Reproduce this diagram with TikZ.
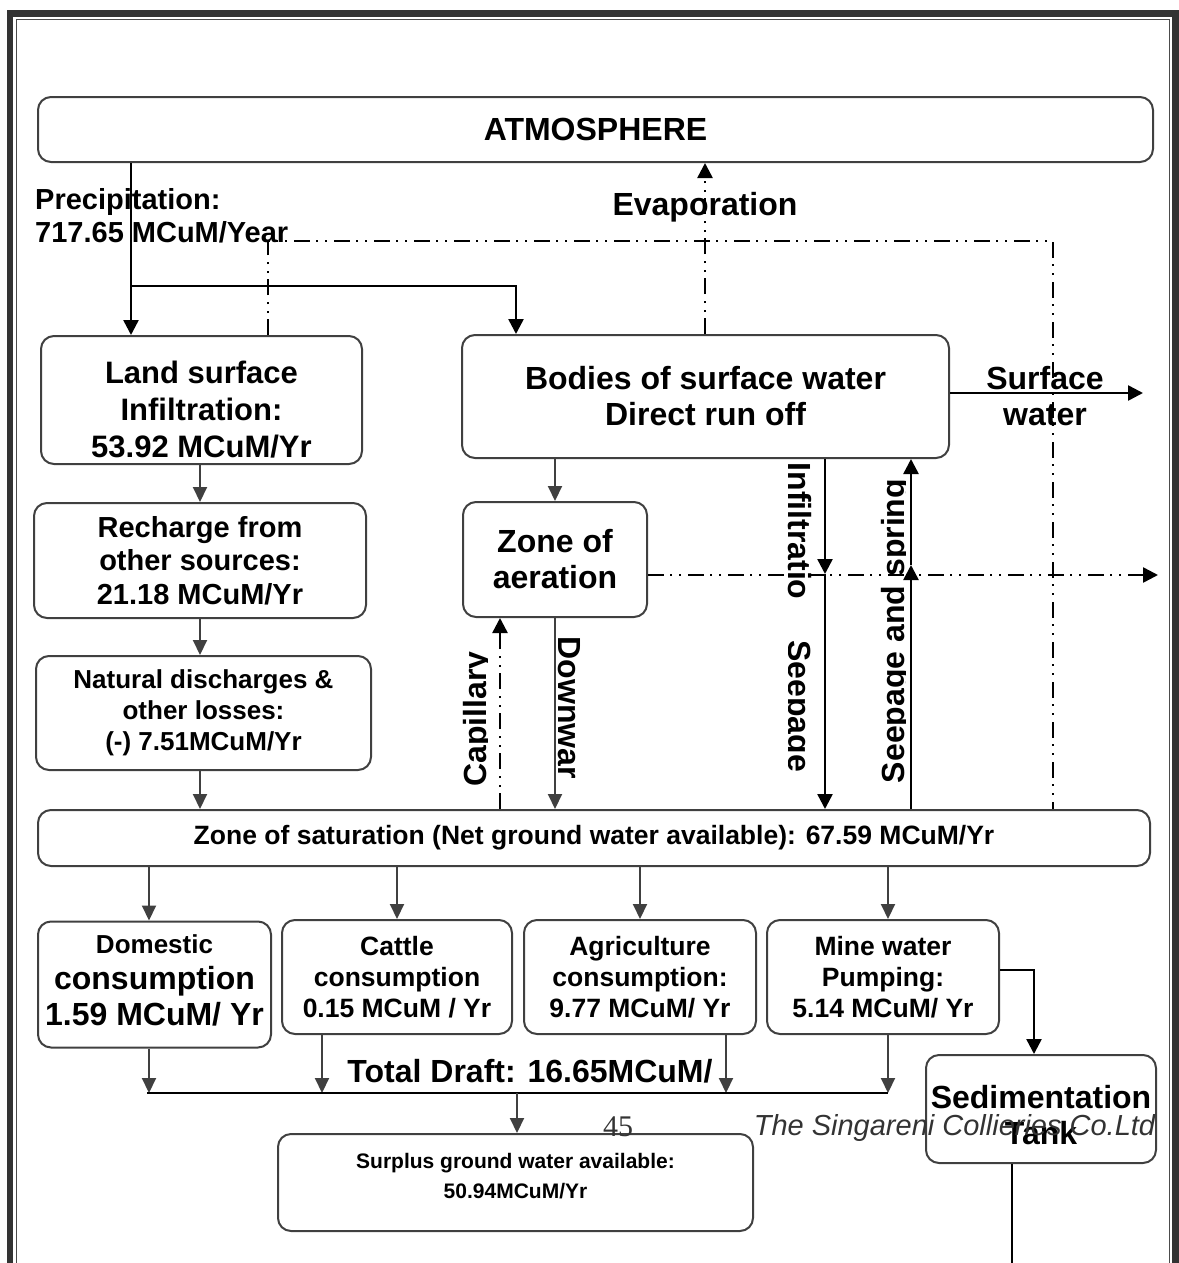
\documentclass[tikz,border=0pt]{standalone}
\usepackage{fontspec}
\setmainfont{Liberation Sans}
\newfontfamily\pagefont{Liberation Serif}
\usetikzlibrary{arrows.meta}

\definecolor{boxgray}{RGB}{64,64,64}

\tikzset{
  box/.style={draw=boxgray, line width=2pt, rounded corners=13pt, align=center, inner sep=0pt},
  lbl/.style={inner sep=0pt, align=center},
  flow/.style={draw=boxgray, line width=2pt, -{Triangle[length=15pt,width=14pt]}},
  bflow/.style={draw=black, line width=2.5pt, -{Triangle[length=15pt,width=15pt]}},
  dashdot/.style={draw=black, line width=2.5pt, dash pattern=on 16pt off 6pt on 2pt off 7pt on 2pt off 7pt},
  dflow/.style={dashdot, -{Triangle[length=15pt,width=15pt]}},
  fbig/.style={font=\bfseries\fontsize{32}{36}\selectfont},
  fmid/.style={font=\bfseries\fontsize{26.5}{31}\selectfont},
}

\begin{document}
\begin{tikzpicture}[x=1pt,y=-1pt]

        \useasboundingbox (0,0) rectangle (1178,1263);

        % page frame
        \draw[line width=6.5pt, black!80] (10,1263) -- (10,13.5) -- (1175.5,13.5) -- (1175.5,1263);
        \draw[line width=1.5pt, black!70] (16.5,1263) -- (16.5,19.5) -- (1169.5,19.5) -- (1169.5,1263);

        % boxes
        \node[box, fbig, minimum width=1115pt, minimum height=65pt] (atm) at (595.5,129.5) {ATMOSPHERE};
        \node[box, minimum width=321pt, minimum height=128pt] (land) at (201.5,400) {};
        \node[lbl, font=\bfseries\fontsize{31}{37}\selectfont] (landtxt) at (201.5,410) {Land surface\\Infiltration:\\53.92 MCuM/Yr};
        \node[box, font=\bfseries\fontsize{29}{33.5}\selectfont, minimum width=332pt, minimum height=115pt] (rech) at (200,560.5) {Recharge from\\other sources:\\21.18 MCuM/Yr};
        \node[box, font=\bfseries\fontsize{26}{31}\selectfont, minimum width=335pt, minimum height=114pt] (nat) at (203.5,713) {Natural discharges \&\\other losses:\\(-) 7.51MCuM/Yr};
        \node[box, fbig, minimum width=487pt, minimum height=123pt] (bodies) at (705.5,396.5) {Bodies of surface water\\Direct run off};
        \node[box, fbig, minimum width=184pt, minimum height=115pt] (aer) at (555,559.5) {Zone of\\aeration};
        \node[box, fmid, minimum width=1112pt, minimum height=56pt] (sat) at (594,838) {Zone of saturation (Net ground water available): 67.59 MCuM/Yr};

        \node[box, minimum width=233pt, minimum height=126pt] (dom) at (154.5,984.5) {};
        \node[lbl, fbig] (domtxt) at (154.5,980.5) {{\fontsize{26}{31}\selectfont Domestic}\\consumption\\1.59 MCuM/ Yr};
        \node[box, fmid, minimum width=230pt, minimum height=114pt] (cat) at (397,977) {Cattle\\consumption\\0.15 MCuM / Yr};
        \node[box, fmid, minimum width=232pt, minimum height=114pt] (agr) at (640,977) {Agriculture\\consumption:\\9.77 MCuM/ Yr};
        \node[box, fmid, minimum width=232pt, minimum height=114pt] (mine) at (883,977) {Mine water\\Pumping:\\5.14 MCuM/ Yr};
        \node[box, minimum width=230pt, minimum height=108pt] (sed) at (1041,1109) {};
        \node[lbl, fbig] (sedtxt) at (1041,1115.5) {Sedimentation\\Tank};
        \node[box, minimum width=475pt, minimum height=97pt] (surp) at (515.5,1182.5) {};
        \node[lbl, font=\bfseries\fontsize{21}{30}\selectfont] (surptxt) at (515.5,1176) {Surplus ground water available:\\50.94MCuM/Yr};

        % free labels
        \node[lbl, font=\bfseries\fontsize{29}{33}\selectfont, align=left, anchor=west] (prec) at (35,216) {Precipitation:\\717.65 MCuM/Year};
        \node[lbl, fbig] (evap) at (705,207) {Evaporation};
        \node[lbl, fbig] (swlbl) at (1045,396) {Surface\\water};
        \node[lbl, fbig] (total) at (530,1071) {Total Draft: 16.65MCuM/};
        \node[lbl, fbig, rotate=-90, anchor=base] (inflbl) at (788,531) {Infiltratio};
        \node[lbl, fbig, rotate=-90, anchor=base] (downlbl) at (558,708) {Downwar};
        \begin{scope}
          \clip (788,600) rectangle (830,800);
          \node[lbl, fbig, rotate=-90, anchor=base] (seeplbl) at (788,706) {Seepage};
        \end{scope}
        \begin{scope}
          \clip (440,600) rectangle (487,800);
          \node[lbl, fbig, rotate=90, anchor=base] (caplbl) at (486,719) {Capillary};
        \end{scope}
        \begin{scope}
          \clip (860,470) rectangle (905,800);
          \node[lbl, fbig, rotate=90, anchor=base] (sprlbl) at (904,631) {Seepage and spring};
        \end{scope}

        % junction points
        \coordinate (rain) at (131,286);
        \coordinate (rain2) at (516,286);
        \coordinate (lp1) at (268,241);
        \coordinate (lp2) at (1053,241);
        \coordinate (sw) at (1143,393);
        \coordinate (gw) at (1158,575);
        \coordinate (inf) at (825,574);
        \coordinate (spr) at (911,565);
        \coordinate (cap) at (500,700);
        \coordinate (lc) at (200,700);
        \coordinate (d1) at (149,1093);
        \coordinate (d2) at (322,1093);
        \coordinate (d3) at (726,1093);
        \coordinate (d4) at (888,1093);
        \coordinate (d0) at (517,1093);
        \coordinate (mt) at (1034,970);
        \coordinate (bot) at (1012,1263);

        % precipitation and evaporation
        \draw[bflow] (atm.south -| rain) -- (land.north -| rain);
        \draw[bflow] (rain) -- (rain2) -- (bodies.north -| rain2);
        \draw[dflow] (bodies.north -| evap) -- (atm.south -| evap);
        \draw[dashdot] (land.north -| lp1) -- (lp1) -- (lp2) -- (sat.north -| lp2);
        \draw[bflow] (bodies.east |- sw) -- (sw);

        % left column
        \draw[flow] (land.south -| lc) -- (rech.north -| lc);
        \draw[flow] (rech.south -| lc) -- (nat.north -| lc);
        \draw[flow] (nat.south -| lc) -- (sat.north -| lc);

        % middle
        \draw[flow] (bodies.south -| aer.north) -- (aer.north);
        \draw[dflow] (aer.east |- gw) -- (gw);
        \draw[flow] (aer.south) -- (sat.north -| aer.south);
        \draw[dflow] (sat.north -| cap) -- (aer.south -| cap);
        \draw[bflow] (bodies.south -| inf) -- (inf);
        \draw[bflow] (inf) -- (sat.north -| inf);
        \draw[bflow] (sat.north -| spr) -- (spr);
        \draw[bflow] (spr) -- (bodies.south -| spr);

        % uses
        \draw[flow] (sat.south -| d1) -- (dom.north -| d1);
        \draw[flow] (sat.south -| cat) -- (cat.north);
        \draw[flow] (sat.south -| agr) -- (agr.north);
        \draw[flow] (sat.south -| d4) -- (mine.north -| d4);
        \draw[flow] (dom.south -| d1) -- (d1);
        \draw[flow] (cat.south -| d2) -- (d2);
        \draw[flow] (agr.south -| d3) -- (d3);
        \draw[flow] (mine.south -| d4) -- (d4);
        \draw[line width=2.5pt] ([xshift=-2pt]d1) -- (d4);
        \draw[flow] (d0) -- (surp.north -| d0);
        \draw[bflow] (mine.east |- mt) -- (mt) -- (sed.north -| mt);
        \draw[line width=2.5pt] (sed.south -| bot) -- (bot);

        % page footer
        \node[lbl, font=\pagefont\fontsize{30}{32}\selectfont, text=black!80] (pgno) at (618,1127) {45};
        \node[lbl, font=\itshape\fontsize{29}{32}\selectfont, text=black!80] (foot) at (954.5,1128) {The Singareni Collieries Co.Ltd};

\end{tikzpicture}
\end{document}
